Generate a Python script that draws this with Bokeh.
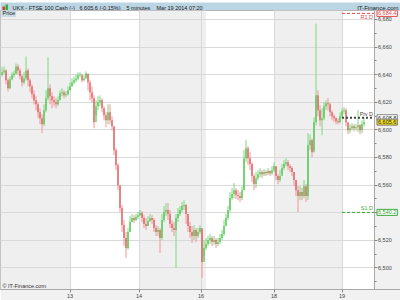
from bokeh.plotting import figure
from bokeh.layouts import column
from bokeh.models import (ColumnDataSource, FixedTicker, NumeralTickFormatter, Label,
                          BoxAnnotation, Range1d)
from bokeh.core.properties import value
from bokeh.embed import file_html
from bokeh.resources import INLINE

# ---- data: 5-minute candles (sampled), UKX / FTSE 100 Cash, Mar 12 - Mar 19 2014 ----
closes = [
    6641.7, 6643.1, 6635.9, 6630.1, 6636.6, 6639.5, 6640.9, 6646.0, 6643.1, 6638.8,
    6634.4, 6637.3, 6643.1, 6635.9, 6631.5, 6625.8, 6621.4, 6618.5, 6612.7, 6608.4,
    6604.1, 6614.2, 6622.9, 6630.1, 6624.3, 6621.4, 6620.0, 6618.5, 6621.4, 6626.5,
    6627.2, 6625.0, 6625.8, 6628.7, 6631.5, 6634.4, 6635.9, 6637.3, 6639.5, 6640.2,
    6635.9, 6637.3, 6640.9, 6634.4, 6627.2, 6622.9, 6605.5, 6617.1, 6620.0, 6621.4,
    6615.6, 6610.6, 6606.9, 6612.7, 6606.9, 6602.6, 6585.3, 6574.4, 6559.9, 6543.3,
    6531.0, 6521.6, 6514.4, 6526.0, 6533.2, 6536.1, 6534.6, 6536.8, 6538.2, 6539.7,
    6536.1, 6531.7, 6530.3, 6533.9, 6536.1, 6534.6, 6528.9, 6526.0, 6527.4, 6521.6,
    6534.6, 6540.4, 6541.9, 6539.0, 6531.7, 6528.9, 6527.4, 6536.1, 6539.0, 6541.9,
    6544.8, 6545.5, 6539.0, 6530.3, 6526.0, 6523.1, 6527.4, 6523.1, 6526.0, 6528.9,
    6504.3, 6514.4, 6517.3, 6520.2, 6521.6, 6518.7, 6520.2, 6517.3, 6518.7, 6521.6,
    6524.5, 6530.3, 6536.1, 6541.9, 6550.6, 6553.5, 6556.3, 6552.7, 6552.0, 6550.6,
    6556.3, 6579.5, 6586.7, 6579.5, 6575.2, 6566.5, 6560.7, 6565.0, 6567.9, 6569.4,
    6567.9, 6569.4, 6568.6, 6570.1, 6568.6, 6570.8, 6573.7, 6566.5, 6563.6, 6566.5,
    6572.3, 6575.2, 6576.6, 6573.7, 6572.3, 6569.4, 6563.6, 6556.3, 6552.0, 6554.9,
    6552.0, 6559.2, 6552.0, 6588.9, 6592.5, 6583.8, 6605.5, 6625.0, 6614.2, 6606.9,
    6608.4, 6617.1, 6619.3, 6618.5, 6612.7, 6609.8, 6608.4, 6606.2, 6605.5, 6609.8,
    6613.5, 6614.2, 6605.5, 6599.7, 6601.2, 6602.6, 6601.2, 6601.9, 6603.3, 6599.7,
    6604.1, 6605.6,
]
highs = [
    6645.3, 6646.0, 6643.8, 6637.3, 6638.8, 6641.7, 6643.1, 6648.1, 6647.4, 6644.6,
    6640.2, 6641.7, 6653.2, 6644.6, 6637.3, 6633.0, 6628.7, 6624.3, 6620.0, 6615.6,
    6611.3, 6618.5, 6628.7, 6652.5, 6633.0, 6627.2, 6624.3, 6622.9, 6624.3, 6628.7,
    6630.1, 6628.7, 6627.9, 6631.5, 6634.4, 6637.3, 6638.8, 6640.2, 6641.7, 6641.7,
    6638.8, 6639.5, 6642.4, 6640.2, 6635.9, 6631.5, 6625.0, 6621.4, 6624.3, 6625.0,
    6622.9, 6617.1, 6612.7, 6618.5, 6618.5, 6609.8, 6602.6, 6586.7, 6575.9, 6559.9,
    6545.5, 6534.6, 6526.0, 6528.9, 6537.5, 6539.0, 6538.2, 6539.0, 6540.4, 6541.9,
    6541.1, 6538.2, 6536.1, 6537.5, 6539.0, 6538.2, 6536.1, 6531.0, 6530.3, 6528.9,
    6539.0, 6544.8, 6546.9, 6546.9, 6541.9, 6534.6, 6533.2, 6539.0, 6543.3, 6544.8,
    6547.7, 6549.1, 6546.2, 6539.0, 6533.2, 6530.3, 6531.0, 6528.9, 6528.9, 6531.0,
    6527.4, 6520.2, 6521.6, 6523.1, 6524.5, 6523.1, 6523.1, 6521.6, 6521.6, 6524.5,
    6527.4, 6534.6, 6539.0, 6544.8, 6554.9, 6557.8, 6561.4, 6557.8, 6556.3, 6554.9,
    6559.2, 6585.3, 6592.5, 6588.2, 6583.8, 6576.6, 6567.9, 6569.4, 6570.8, 6572.3,
    6570.8, 6571.5, 6570.8, 6572.3, 6570.8, 6573.7, 6576.6, 6573.7, 6567.9, 6570.8,
    6575.2, 6578.0, 6579.5, 6578.0, 6575.2, 6573.7, 6569.4, 6563.6, 6559.2, 6559.2,
    6557.8, 6563.6, 6560.7, 6597.6, 6596.8, 6593.9, 6609.1, 6677.1, 6628.7, 6617.8,
    6615.6, 6620.0, 6621.4, 6622.9, 6620.0, 6614.2, 6611.3, 6609.1, 6608.4, 6612.7,
    6615.6, 6616.4, 6615.6, 6605.5, 6604.1, 6604.8, 6604.1, 6604.1, 6614.2, 6604.1,
    6606.9, 6609.1,
]
lows = [
    6638.8, 6640.2, 6633.0, 6627.9, 6629.4, 6635.9, 6638.1, 6640.2, 6640.2, 6636.6,
    6631.5, 6633.0, 6635.9, 6631.5, 6627.2, 6622.9, 6618.5, 6614.2, 6608.4, 6604.1,
    6597.6, 6602.6, 6612.7, 6621.4, 6618.5, 6615.6, 6617.1, 6615.6, 6617.1, 6621.4,
    6624.3, 6622.9, 6623.6, 6625.0, 6628.7, 6631.5, 6633.0, 6634.4, 6635.9, 6638.1,
    6634.4, 6635.2, 6637.3, 6628.7, 6621.4, 6620.0, 6601.2, 6610.6, 6614.2, 6617.1,
    6612.7, 6606.9, 6601.9, 6604.1, 6604.1, 6599.7, 6581.7, 6570.8, 6556.3, 6540.4,
    6526.0, 6515.8, 6507.2, 6513.0, 6526.0, 6533.2, 6532.5, 6533.9, 6535.4, 6537.5,
    6533.2, 6528.9, 6527.4, 6530.3, 6533.2, 6531.7, 6526.0, 6523.1, 6523.1, 6510.8,
    6520.2, 6533.2, 6537.5, 6534.6, 6528.9, 6526.0, 6523.1, 6500.0, 6533.2, 6537.5,
    6540.4, 6541.9, 6531.7, 6526.0, 6521.6, 6518.0, 6520.2, 6518.7, 6521.6, 6524.5,
    6492.7, 6508.6, 6513.0, 6515.8, 6517.3, 6515.8, 6516.6, 6514.4, 6515.8, 6517.3,
    6520.2, 6523.1, 6530.3, 6534.6, 6540.4, 6549.1, 6550.6, 6549.8, 6549.1, 6547.7,
    6549.1, 6556.3, 6576.6, 6574.4, 6570.8, 6562.1, 6556.3, 6557.8, 6563.6, 6565.7,
    6565.0, 6566.5, 6566.5, 6567.2, 6566.5, 6567.2, 6569.4, 6563.6, 6560.7, 6562.1,
    6567.9, 6570.8, 6573.7, 6570.8, 6569.4, 6566.5, 6559.2, 6552.0, 6540.4, 6549.1,
    6549.1, 6550.6, 6547.7, 6549.1, 6585.3, 6580.2, 6585.3, 6603.3, 6609.8, 6602.6,
    6596.1, 6606.9, 6614.2, 6614.2, 6609.8, 6606.9, 6605.5, 6604.1, 6604.1, 6604.8,
    6608.4, 6611.3, 6602.6, 6596.8, 6597.6, 6599.7, 6599.0, 6599.7, 6598.3, 6596.8,
    6597.6, 6602.6,
]
first_open = 6640.0

day_ticks = [34, 68.5, 99.5, 136, 170]
day_labels = ["13", "14", "16", "18", "19"]
session_edges = [-0.75, 34, 68.5, 102, 136, 170, 186]
session_shaded = [True, False, True, False, True, False]
view_end = 199.25  # extra room on the right for the price scale

price_ticks = [6500, 6520, 6540, 6560, 6580, 6600, 6620, 6640, 6660, 6680]
price_minor = [6490, 6510, 6530, 6550, 6570, 6590, 6610, 6630, 6650, 6670, 6690]

level_names = ["R1 D", "Piv D", "S1 D"]
level_values = [6684.4, 6608.8, 6540.2]
level_colors = ["#e5484d", "#444444", "#3aa83a"]
level_dashes = ["3 2", "2 2", "3 2"]
level_widths = [1, 2, 1]
last_price = 6605.6

header_parts = ["UKX - FTSE 100 Cash (-)", "6,605.6 (-0.15%)", "5 minutes", "Mar 19 2014 07:20"]
header_x = [12, 79, 126, 156]

FONT = "Liberation Sans"

# ---- derived ----
opens = [first_open] + closes[:-1]
idx = list(range(len(closes)))


def subset(keep):
    rows = [i for i in idx if keep(opens[i], closes[i])]
    return ColumnDataSource(dict(
        x=[idx[i] for i in rows], o=[opens[i] for i in rows], c=[closes[i] for i in rows],
        h=[highs[i] for i in rows], l=[lows[i] for i in rows]))


up_src = subset(lambda o, c: c >= o)
dn_src = subset(lambda o, c: c < o)

# ---------------- header bar ----------------
hdr = figure(width=400, height=10, output_backend="svg", toolbar_location=None,
             x_range=Range1d(0, 400), y_range=Range1d(10, 0),
             min_border=0, x_axis_type=None, y_axis_type=None)
hdr.background_fill_color = "#bcd5e4"
hdr.border_fill_color = "#bcd5e4"
hdr.outline_line_color = None
hdr.grid.visible = False
hdr.quad(left=[2], right=[4.5], top=[4], bottom=[8], fill_color="#d83a3a", line_color=None)
hdr.quad(left=[5], right=[7.5], top=[2], bottom=[9], fill_color="#2fb52f", line_color=None)
hdr.text(x=header_x, y=[5.5] * len(header_x), text=header_parts, text_baseline="middle",
         text_font=value(FONT), text_font_size="5.5px", text_color="#1a1a1a")
hdr.text(x=[398], y=[5.5], text=["IT-Finance.com"], text_align="right", text_baseline="middle",
         text_font=value(FONT), text_font_size="6px", text_color="#1a1a1a")

# ---------------- main chart ----------------
x0, x1 = session_edges[-2], session_edges[-1]
p = figure(width=400, height=290, output_backend="svg", toolbar_location=None,
           x_range=Range1d(session_edges[0], view_end),
           y_range=Range1d(6484.3, 6686.5),
           y_axis_location="right",
           min_border_left=0, min_border_right=0, min_border_top=0, min_border_bottom=10)
p.background_fill_color = "white"
p.border_fill_color = "#f1f1f1"
p.outline_line_color = "#b4b4b4"

for a, b, s in zip(session_edges[:-1], session_edges[1:], session_shaded):
    if s:
        p.add_layout(BoxAnnotation(left=a, right=b, fill_color="#efefef", fill_alpha=1.0,
                                   line_color=None, level="image"))

p.xgrid.ticker = FixedTicker(ticks=day_ticks)
p.ygrid.ticker = FixedTicker(ticks=price_ticks)
p.xgrid.grid_line_color = "#d9d9d9"
p.ygrid.grid_line_color = "#d9d9d9"
# price-scale strip to the right of the chart area
p.add_layout(BoxAnnotation(left=x1, fill_color="#f1f1f1", fill_alpha=1.0, line_color=None,
                           level="underlay"))

p.xaxis.ticker = FixedTicker(ticks=day_ticks)
p.xaxis.major_label_overrides = dict(zip(day_ticks, day_labels))
p.yaxis.ticker = FixedTicker(ticks=price_ticks, minor_ticks=price_minor)
p.yaxis.formatter = NumeralTickFormatter(format="0,0")
p.yaxis.fixed_location = x1
p.yaxis.axis_label = " "
p.yaxis.axis_label_text_font_size = "5px"
p.yaxis.axis_label_standoff = -40
for ax in (p.xaxis, p.yaxis):
    ax.axis_line_color = "#a8a8a8"
    ax.major_tick_line_color = "#888888"
    ax.minor_tick_line_color = "#888888"
    ax.major_tick_in = 0
    ax.major_tick_out = 3
    ax.minor_tick_in = 0
    ax.minor_tick_out = 2
    ax.major_label_text_font = FONT
    ax.major_label_text_font_size = "5.5px"
    ax.major_label_text_color = "#444444"
    ax.major_label_standoff = 1

# candles: wicks then bodies
p.segment(x0="x", y0="h", x1="x", y1="l", line_color="#7fd87f", line_width=1, source=up_src)
p.segment(x0="x", y0="h", x1="x", y1="l", line_color="#f09498", line_width=1, source=dn_src)
p.vbar(x="x", width=0.5, top="o", bottom="c", fill_color="#2ebd2e", line_color=None, source=up_src)
p.vbar(x="x", width=0.5, top="o", bottom="c", fill_color="#dc3c3c", line_color=None, source=dn_src)

# daily pivot levels on the last session
name_baselines = ["top", "bottom", "bottom"]
name_offsets = [-1, 1, 1]
for name, val, col, dash, lw, bl, yo in zip(level_names, level_values, level_colors,
                                            level_dashes, level_widths, name_baselines, name_offsets):
    p.line(x=[x0, x1], y=[val, val], line_color=col, line_dash=dash, line_width=lw)
    p.add_layout(Label(x=x1, y=val, x_offset=-1, y_offset=yo, text=name, text_align="right",
                       text_baseline=bl, text_font=FONT, text_font_size="5.5px",
                       text_color=col))

# price boxes on the price scale
box_vals = level_values + [last_price]
box_text_colors = [level_colors[0], "#333333", level_colors[2], "#222222"]
box_fill = ["white", "white", "white", "#f2e21c"]
box_border = [level_colors[0], "#888888", level_colors[2], "#777777"]
for v, tc, bf, bb in zip(box_vals, box_text_colors, box_fill, box_border):
    p.add_layout(Label(x=x1, y=v, x_offset=3, text=f"{v:,.1f}", text_align="left",
                       text_baseline="middle", text_font=FONT, text_font_size="5.5px",
                       text_color=tc, background_fill_color=bf, border_line_color=bb,
                       padding=1))

p.add_layout(Label(x=1, y=276.5, x_units="screen", y_units="screen", text="Price",
                   text_baseline="middle", text_font=FONT, text_font_size="5.5px",
                   text_color="#222222", background_fill_color="#c7dae6", padding=1))
p.add_layout(Label(x=2, y=1, x_units="screen", y_units="screen", text="\u00a9 IT-Finance.com",
                   text_baseline="bottom", text_font=FONT, text_font_size="5.5px",
                   text_color="#333333"))

layout = column(hdr, p, spacing=0)
open("out.html", "w").write(file_html(layout, INLINE))
